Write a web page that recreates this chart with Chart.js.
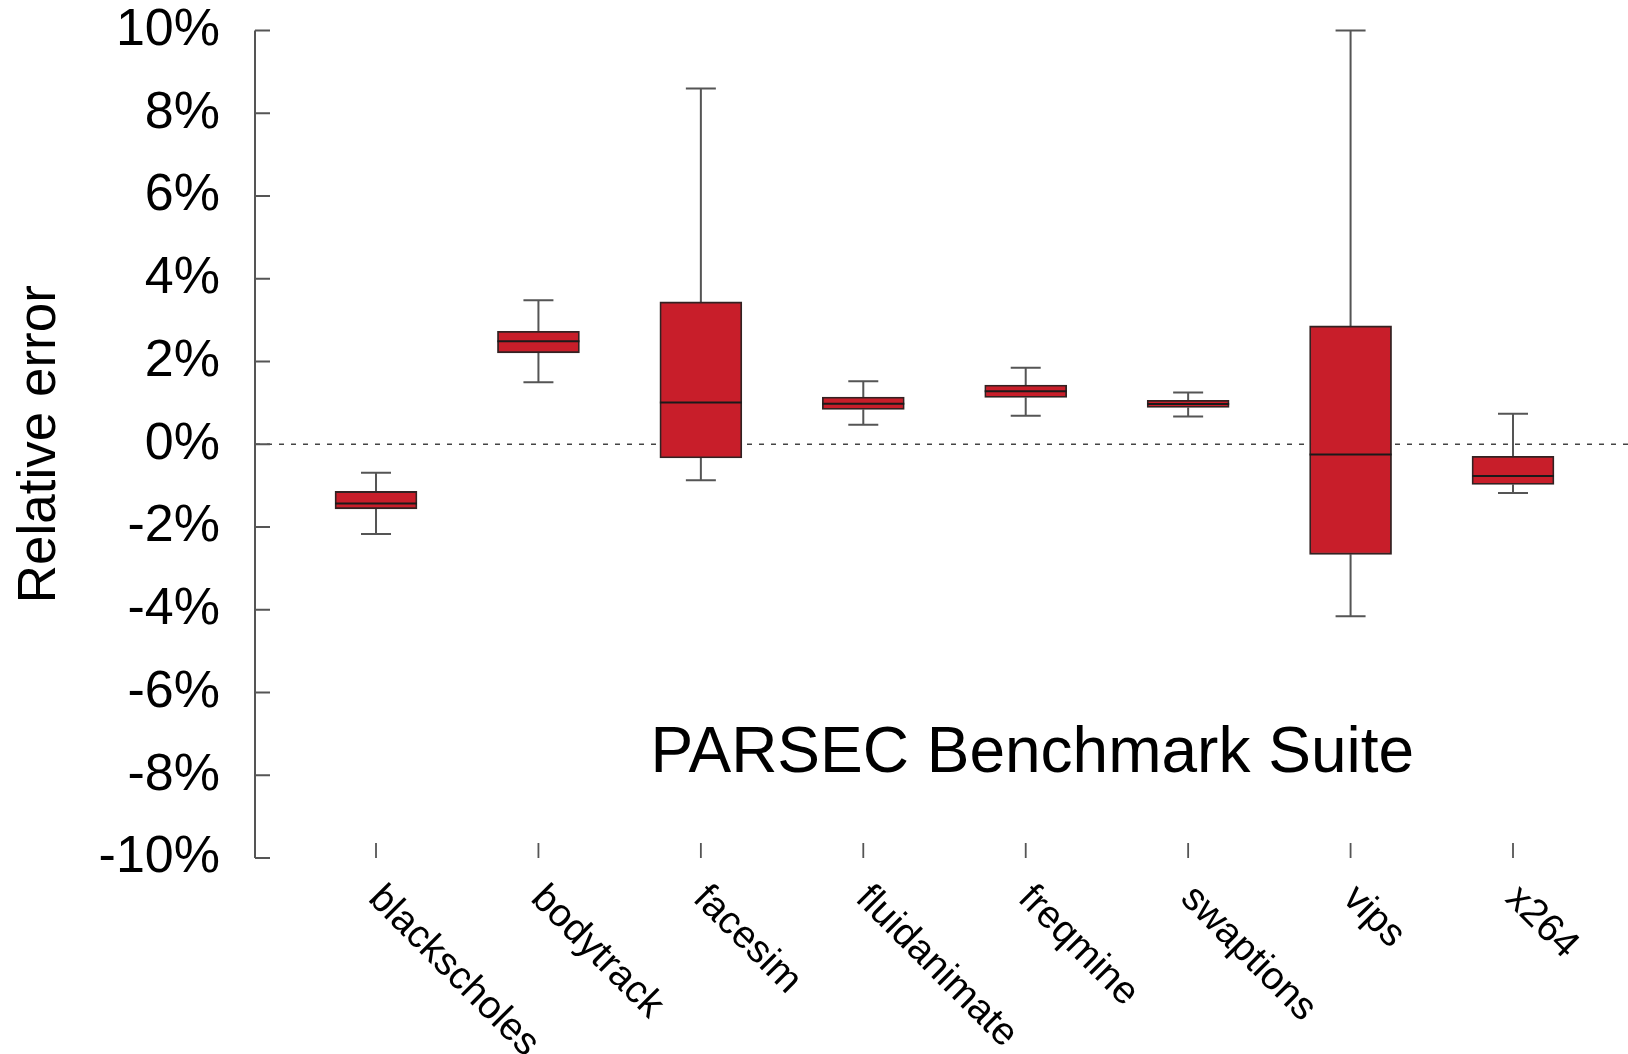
<!DOCTYPE html>
<html>
<head>
<meta charset="utf-8">
<script src="https://cdn.jsdelivr.net/npm/chart.js@4.4.1/dist/chart.umd.min.js"></script>
<style>
  html, body { margin: 0; padding: 0; background: #ffffff; }
  #wrap { width: 1628px; height: 1054px; position: relative; }
</style>
</head>
<body>
<div id="wrap"><canvas id="c"></canvas></div>
<script>
// ---- data (relative error, %) ----
const categories  = ['blackscholes', 'bodytrack', 'facesim', 'fluidanimate', 'freqmine', 'swaptions', 'vips', 'x264'];
const whiskerLow  = [-2.17, 1.50, -0.87, 0.47, 0.69, 0.67, -4.16, -1.18];
const q1          = [-1.56, 2.21, -0.33, 0.84, 1.13, 0.89, -2.66, -0.97];
const median      = [-1.43, 2.49,  1.01, 0.98, 1.28, 0.97, -0.25, -0.77];
const q3          = [-1.14, 2.73,  3.44, 1.14, 1.43, 1.06,  2.86, -0.29];
const whiskerHigh = [-0.69, 3.48,  8.60, 1.52, 1.85, 1.25, 10.00,  0.74];
const yTickValues = [-10, -8, -6, -4, -2, 0, 2, 4, 6, 8, 10];
const yTitle = 'Relative error';
const annotationText = 'PARSEC Benchmark Suite';
const annotationPos = { x: 1.69, y: -7.93 };

const FONT = "'Liberation Sans', Arial, Helvetica, sans-serif";

const boxPlotPlugin = {
  id: 'boxPlotParts',
  beforeDatasetsDraw(chart) {
    const { ctx, chartArea, scales } = chart;
    const xs = scales.x, ys = scales.y;
    ctx.save();
    // dashed zero reference line
    ctx.strokeStyle = '#444444';
    ctx.lineWidth = 1.5;
    ctx.setLineDash([5, 7]);
    const y0 = ys.getPixelForValue(0);
    ctx.beginPath();
    ctx.moveTo(chartArea.left, y0);
    ctx.lineTo(chartArea.right, y0);
    ctx.stroke();
    ctx.setLineDash([]);
    // whiskers
    ctx.strokeStyle = '#555555';
    ctx.lineWidth = 2;
    const capHalf = 15;
    categories.forEach((c, i) => {
      const x = xs.getPixelForValue(i);
      const yH = ys.getPixelForValue(whiskerHigh[i]);
      const yQ3 = ys.getPixelForValue(q3[i]);
      const yQ1 = ys.getPixelForValue(q1[i]);
      const yL = ys.getPixelForValue(whiskerLow[i]);
      ctx.beginPath();
      ctx.moveTo(x, yH); ctx.lineTo(x, yQ3);
      ctx.moveTo(x, yQ1); ctx.lineTo(x, yL);
      ctx.moveTo(x - capHalf, yH); ctx.lineTo(x + capHalf, yH);
      ctx.moveTo(x - capHalf, yL); ctx.lineTo(x + capHalf, yL);
      ctx.stroke();
    });
    ctx.restore();
  },
  afterDatasetsDraw(chart) {
    const { ctx, scales } = chart;
    const xs = scales.x, ys = scales.y;
    const meta = chart.getDatasetMeta(0);
    ctx.save();
    ctx.strokeStyle = '#1a1a1a';
    ctx.lineWidth = 2;
    categories.forEach((c, i) => {
      const el = meta.data[i];
      const x = xs.getPixelForValue(i);
      const half = el.width / 2;
      const y = ys.getPixelForValue(median[i]);
      ctx.beginPath();
      ctx.moveTo(x - half, y);
      ctx.lineTo(x + half, y);
      ctx.stroke();
    });
    ctx.restore();
  },
  afterDraw(chart) {
    const { ctx, chartArea, scales } = chart;
    const xs = scales.x, ys = scales.y;
    ctx.save();
    ctx.strokeStyle = '#555555';
    ctx.lineWidth = 2;
    // y axis line and inward ticks
    const left = chartArea.left;
    const yTop = ys.getPixelForValue(yTickValues[yTickValues.length - 1]);
    const yBot = ys.getPixelForValue(yTickValues[0]);
    ctx.beginPath();
    ctx.moveTo(left, yTop);
    ctx.lineTo(left, yBot);
    yTickValues.forEach(v => {
      const y = ys.getPixelForValue(v);
      ctx.moveTo(left, y);
      ctx.lineTo(left + 15, y);
    });
    ctx.stroke();
    // x ticks (inward)
    ctx.lineWidth = 1.8;
    ctx.beginPath();
    categories.forEach((c, i) => {
      const x = xs.getPixelForValue(i);
      ctx.moveTo(x, chartArea.bottom - 15);
      ctx.lineTo(x, chartArea.bottom);
    });
    ctx.stroke();
    // x labels, rotated clockwise 45 deg, starting at tick
    ctx.fillStyle = '#000000';
    ctx.font = '39px ' + FONT;
    ctx.textAlign = 'left';
    ctx.textBaseline = 'alphabetic';
    categories.forEach((c, i) => {
      const x = xs.getPixelForValue(i);
      ctx.save();
      ctx.translate(x - 9, chartArea.bottom + 42);
      ctx.rotate(Math.PI / 4);
      ctx.fillText(c, 0, 0);
      ctx.restore();
    });
    // annotation
    ctx.font = '64px ' + FONT;
    ctx.textAlign = 'left';
    ctx.fillText(annotationText, xs.getPixelForValue(annotationPos.x), ys.getPixelForValue(annotationPos.y));
    ctx.restore();
  }
};

new Chart(document.getElementById('c'), {
  type: 'bar',
  data: {
    datasets: [{
      data: categories.map((c, i) => ({ x: i, y: [q1[i], q3[i]] })),
      backgroundColor: '#C81E2A',
      borderColor: '#332222',
      borderWidth: 1.8,
      borderSkipped: false,
      barThickness: 82
    }]
  },
  options: {
    responsive: true,
    maintainAspectRatio: false,
    animation: false,
    layout: { padding: 0 },
    plugins: {
      legend: { display: false },
      tooltip: { enabled: false }
    },
    scales: {
      x: {
        type: 'linear',
        offset: false,
        min: -0.745,
        max: 7.708,
        grid: { display: false, drawTicks: false, offset: false },
        border: { display: false },
        ticks: { display: false },
        afterFit(s) { s.height = 196; s.paddingLeft = 0; s.paddingRight = 0; }
      },
      y: {
        min: -10,
        max: 10,
        afterBuildTicks(s) { s.ticks = yTickValues.map(v => ({ value: v })); },
        grid: { display: false, drawTicks: false },
        border: { display: false },
        ticks: {
          padding: 35,
          color: '#000000',
          font: { family: FONT, size: 52 },
          callback: v => v + '%'
        },
        title: {
          display: true,
          text: yTitle,
          color: '#000000',
          font: { family: FONT, size: 53 },
          padding: { top: 9, bottom: 0 }
        },
        afterFit(s) { s.width = 255; s.paddingTop = 30.5; s.paddingBottom = 0; }
      }
    }
  },
  plugins: [boxPlotPlugin]
});
</script>
</body>
</html>
